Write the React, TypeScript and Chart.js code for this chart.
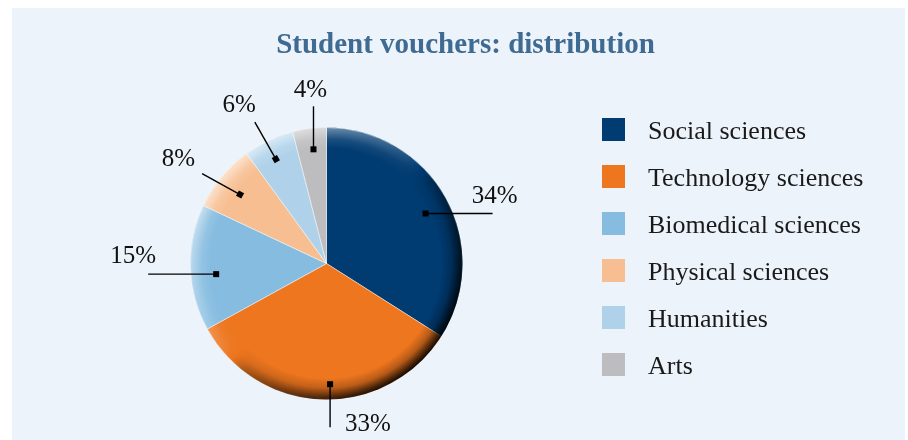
import React, { useEffect, useRef } from "react";
import { Chart, registerables } from "chart.js";

Chart.register(...registerables);

// ---------- data ----------
const categories = [
  "Social sciences",
  "Technology sciences",
  "Biomedical sciences",
  "Physical sciences",
  "Humanities",
  "Arts",
];
const shares = [34, 33, 15, 8, 6, 4];
const percentLabels = ["34%", "33%", "15%", "8%", "6%", "4%"];
const sliceColors = ["#003B71", "#ED761F", "#85BCE0", "#F7BF91", "#AFD2EA", "#BDBDBF"];
const titleText = "Student vouchers: distribution";

// ---------- label / leader layout (annotation styling) ----------
const leaderLayout = [
  { f: 0.816, da: 2.0, dx: 67, dy: 0, tx: 2, ty: -10, align: "center" },
  { f: 0.888, da: -3.5, dx: 0, dy: 43, tx: 15, ty: 4, align: "left" },
  { f: 0.815, da: -3.7, dx: -68, dy: 0, tx: 8, ty: -11, align: "right" },
  { f: 0.813, da: -1.0, dx: -38, dy: -21, tx: -7, ty: -8, align: "right" },
  { f: 0.853, da: -0.7, dx: -21, dy: -37, tx: 1, ty: -10, align: "right" },
  { f: 0.845, da: 0.7, dx: 0, dy: -43, tx: -3, ty: -9, align: "center" },
];

const SERIF = '"Liberation Serif", "Times New Roman", serif';

const panelPlugin = {
  id: "panelBg",
  beforeDraw(chart: any) {
    const ctx = chart.ctx;
    ctx.save();
    ctx.fillStyle = "#ECF3FA";
    ctx.fillRect(12, 8, 893, 440);
    ctx.restore();
  },
};

const shadePlugin = {
  id: "shade",
  afterDatasetsDraw(chart: any) {
    const meta = chart.getDatasetMeta(0);
    if (!meta.data.length) return;
    const p = meta.data[0].getProps(["x", "y", "outerRadius"], true);
    const x = p.x, y = p.y, R = p.outerRadius;
    const w = 21;
    const off = document.createElement("canvas");
    off.width = chart.width;
    off.height = chart.height;
    const o = off.getContext("2d") as CanvasRenderingContext2D;
    const cg = (o as any).createConicGradient(-0.75 * Math.PI, x, y);
    const Lmax = 0.55, Dmax = 0.93;
    const N = 48;
    for (let k = 0; k <= N; k++) {
      const t = k / N;
      const c = Math.cos(t * 2 * Math.PI);
      if (Math.abs(t - 0.25) < 1e-9 || Math.abs(t - 0.75) < 1e-9) {
        if (t < 0.5) {
          cg.addColorStop(t, "rgba(255,255,255,0)");
          cg.addColorStop(t, "rgba(0,0,0,0)");
        } else {
          cg.addColorStop(t, "rgba(0,0,0,0)");
          cg.addColorStop(t, "rgba(255,255,255,0)");
        }
        continue;
      }
      if (c >= 0) {
        cg.addColorStop(t, `rgba(255,255,255,${(Lmax * Math.pow(c, 0.7)).toFixed(3)})`);
      } else {
        cg.addColorStop(t, `rgba(0,0,0,${(Dmax * Math.pow(-c, 0.55)).toFixed(3)})`);
      }
    }
    o.fillStyle = cg;
    o.beginPath();
    o.arc(x, y, R, 0, Math.PI * 2);
    o.fill();
    o.globalCompositeOperation = "destination-in";
    const rg = o.createRadialGradient(x, y, R - w, x, y, R);
    rg.addColorStop(0, "rgba(0,0,0,0)");
    rg.addColorStop(0.45, "rgba(0,0,0,0.25)");
    rg.addColorStop(0.8, "rgba(0,0,0,0.75)");
    rg.addColorStop(1, "rgba(0,0,0,1)");
    o.fillStyle = rg;
    o.fillRect(0, 0, off.width, off.height);
    const ctx = chart.ctx;
    ctx.save();
    ctx.setTransform(1, 0, 0, 1, 0, 0);
    ctx.drawImage(off, 0, 0);
    ctx.restore();
  },
};

const labelPlugin = {
  id: "leaderLabels",
  afterDatasetsDraw(chart: any) {
    const meta = chart.getDatasetMeta(0);
    const ctx = chart.ctx;
    ctx.save();
    meta.data.forEach((arc: any, i: number) => {
      const p = arc.getProps(["x", "y", "startAngle", "endAngle", "outerRadius"], true);
      const L = leaderLayout[i];
      const a = (p.startAngle + p.endAngle) / 2 + (L.da * Math.PI) / 180;
      const mx = p.x + Math.cos(a) * L.f * p.outerRadius;
      const my = p.y + Math.sin(a) * L.f * p.outerRadius;
      const ex = mx + L.dx;
      const ey = my + L.dy;
      ctx.strokeStyle = "#000";
      ctx.lineWidth = 1.4;
      ctx.beginPath();
      ctx.moveTo(mx, my);
      ctx.lineTo(ex, ey);
      ctx.stroke();
      ctx.save();
      ctx.translate(mx, my);
      ctx.rotate(Math.atan2(L.dy, L.dx));
      ctx.fillStyle = "#000";
      ctx.fillRect(-3, -3, 6, 6);
      ctx.restore();
      ctx.fillStyle = "#111";
      ctx.font = `25px ${SERIF}`;
      ctx.textAlign = L.align;
      ctx.textBaseline = "alphabetic";
      ctx.fillText(percentLabels[i], ex + L.tx, ey + L.ty);
    });
    ctx.restore();
  },
};

const titlePlugin = {
  id: "customTitle",
  afterDraw(chart: any) {
    const ctx = chart.ctx;
    ctx.save();
    ctx.fillStyle = "#3F6A91";
    ctx.font = `bold 29px ${SERIF}`;
    ctx.textAlign = "center";
    ctx.textBaseline = "alphabetic";
    ctx.fillText(titleText, 465.5, 53);
    ctx.restore();
  },
};

const legendPlugin = {
  id: "sideLegend",
  afterDraw(chart: any) {
    const ctx = chart.ctx;
    const labels = chart.data.labels as string[];
    const colors = chart.data.datasets[0].backgroundColor as string[];
    ctx.save();
    ctx.font = `26px ${SERIF}`;
    ctx.textAlign = "left";
    ctx.textBaseline = "alphabetic";
    labels.forEach((lab, i) => {
      const top = 118 + 47 * i;
      ctx.fillStyle = colors[i];
      ctx.fillRect(602, top, 23, 23);
      ctx.fillStyle = "#1a1a1a";
      ctx.fillText(lab, 648, top + 21);
    });
    ctx.restore();
  },
};

export default function App() {
  const ref = useRef<HTMLCanvasElement | null>(null);
  useEffect(() => {
    if (!ref.current) return;
    const chart = new Chart(ref.current, {
      type: "pie",
      data: {
        labels: categories,
        datasets: [
          {
            data: shares,
            backgroundColor: sliceColors,
            borderColor: "rgba(255,255,255,0.45)",
            borderWidth: 1,
          },
        ],
      },
      options: {
        animation: false,
        responsive: true,
        maintainAspectRatio: false,
        events: [],
        layout: { padding: { left: 190, right: 445, top: 127, bottom: 40 } },
        plugins: {
          legend: { display: false },
          title: { display: false },
          tooltip: { enabled: false },
        },
      } as any,
      plugins: [panelPlugin, shadePlugin, labelPlugin, titlePlugin, legendPlugin] as any,
    });
    return () => chart.destroy();
  }, []);
  return (
    <div style={{ position: "fixed", left: 0, top: 0, width: 908, height: 440 }}>
      <canvas ref={ref} />
    </div>
  );
}
